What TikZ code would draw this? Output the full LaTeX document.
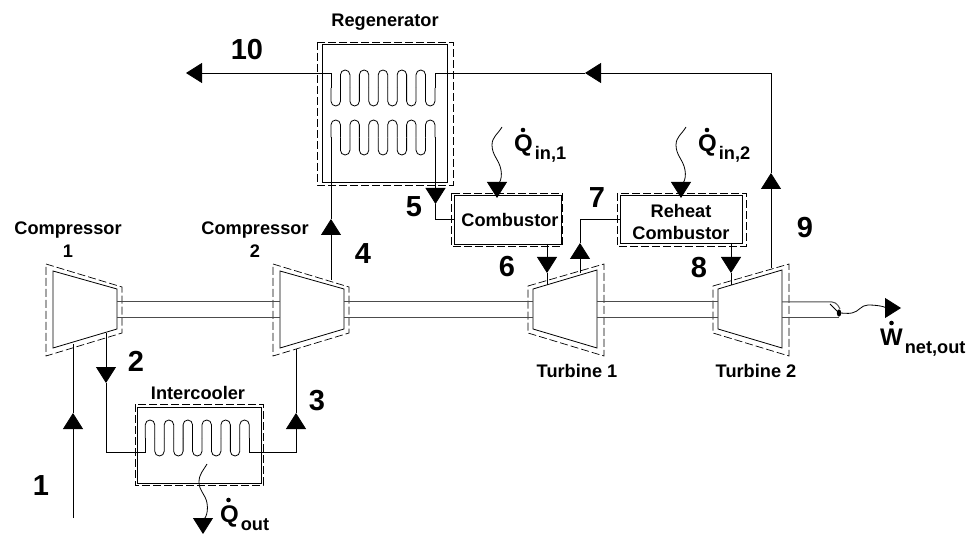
\documentclass[tikz,border=0pt]{standalone}
\usepackage{fontspec}
\setmainfont{Liberation Sans}
\usetikzlibrary{arrows.meta}

\tikzset{
  pipe/.style={draw,line width=.8pt,line join=miter},
  flow/.style={pipe,-{Triangle[length=16pt,width=20pt]}},
  casing/.style={draw,line width=.7pt,dash pattern=on 8pt off 3pt},
  shaft/.style={draw=black!70,line width=1pt},
  unit/.style={draw,line width=.8pt,inner sep=0pt,align=center,font=\bfseries\fontsize{18.2}{22}\selectfont},
  caption/.style={font=\bfseries\fontsize{18.2}{22}\selectfont,inner sep=0pt,align=center},
  state/.style={font=\bfseries\fontsize{29}{29}\selectfont,inner sep=0pt},
  energy/.style={font=\bfseries\fontsize{24}{24}\selectfont,inner sep=0pt,anchor=base west},
}
\newcommand{\Sub}[1]{\kern2pt\raisebox{-8pt}{\fontsize{18.2}{18}\selectfont #1}}
\newcommand{\Compressor}[1]{
  \draw[pipe] (#1,271) -- (#1+64,289) -- (#1+64,329) -- (#1,348) -- cycle;
  \draw[casing] (#1-7,264) -- (#1+69,287) -- (#1+69,333) -- (#1-7,356) -- cycle;
}
\newcommand{\Turbine}[1]{
  \draw[pipe] (#1,289) -- (#1+64,270) -- (#1+64,348) -- (#1,329) -- cycle;
  \draw[casing] (#1-5,286) -- (#1+71,264) -- (#1+71,356) -- (#1-5,333) -- cycle;
}
\newcommand{\Coil}[3]{
  \foreach \i in {0,2,...,10}
    \draw[pipe,rounded corners=4.7pt] (#1+\i*9.45,{(#2+#3)/2}) -- (#1+\i*9.45,#2) -- (#1+\i*9.45+9.45,#2) -- (#1+\i*9.45+9.45,{(#2+#3)/2});
  \foreach \i in {1,3,...,9}
    \draw[pipe,rounded corners=4.7pt] (#1+\i*9.45,{(#2+#3)/2}) -- (#1+\i*9.45,#3) -- (#1+\i*9.45+9.45,#3) -- (#1+\i*9.45+9.45,{(#2+#3)/2});
}

\begin{document}
\begin{tikzpicture}[x=1pt,y=-1pt]
  \useasboundingbox (0,0) rectangle (968,534);

  \Compressor{53}
  \Compressor{280}
  \Turbine{533}
  \Turbine{718}

  \draw[pipe] (137,407) rectangle (261,483);
  \draw[pipe] (322,44) rectangle (447,182);
  \node[unit,minimum width=107pt,minimum height=49pt] (combustor) at (507.5,219.5) {\kern5pt Combustor};
  \node[unit,minimum width=122pt,minimum height=48pt] (reheat) at (681,219) {\rule{0pt}{20pt}Reheat\\Combustor};
  \draw[casing] (135,404) rectangle (263,485);
  \draw[casing] (317,42) rectangle (453,185);
  \draw[casing] (451,193) rectangle (562,246);
  \draw[casing] (617,193) rectangle (746,246);

  \Coil{145.3}{420}{456}
  \Coil{331}{106}{70}
  \Coil{331}{120}{155}

  % shaft
  \coordinate (c1e) at (117,302);
  \coordinate (c1f) at (117,317);
  \draw[shaft] (c1e) -- (280,302) (c1f) -- (280,317);
  \draw[shaft] (344,302) -- (533,302) (344,317) -- (533,317);
  \draw[shaft] (597,302) -- (718,302) (597,317) -- (718,317);
  \coordinate (shaftend) at (839,313);
  \draw[shaft,rounded corners=4pt] (782,302) -- (836,302) -- (840,309);
  \draw[shaft] (782,317) -- (839,317);
  \draw[pipe] (830,304) -- (shaftend);
  \fill (shaftend) ellipse (2.2pt and 3.6pt);

  % states
  \coordinate (in1) at (73,518);
  \coordinate (tip1) at (73,413);
  \coordinate (c1in) at (73,344);
  \draw[flow] (in1) -- (tip1);
  \draw[pipe] (tip1) -- (c1in);

  \coordinate (c1out) at (106,333);
  \coordinate (tip2) at (106,383);
  \coordinate (coilin) at (145.3,438);
  \draw[flow] (c1out) -- (tip2);
  \draw[pipe] (tip2) |- (145.3,452) -- (coilin);

  \coordinate (coilout) at (249.3,438);
  \coordinate (tip3) at (296,413);
  \coordinate (c2in) at (296,349);
  \draw[pipe,-{Triangle[length=16pt,width=20pt]}] (coilout) |- (296,452) -- (tip3);
  \draw[pipe] (tip3) -- (c2in);

  \coordinate (c2out) at (331,280);
  \coordinate (tip4) at (331,219);
  \coordinate (regin) at (331,137.5);
  \draw[flow] (c2out) -- (tip4);
  \draw[pipe] (tip4) -- (regin);

  \coordinate (regout) at (435.5,137.5);
  \coordinate (tip5) at (435.5,204);
  \draw[flow] (regout) -- (tip5);
  \draw[pipe] (tip5) |- (combustor.west);

  \coordinate (t1in) at (547,285);
  \coordinate (tip6) at (547,273);
  \draw[flow] (547,244) -- (tip6);
  \draw[pipe] (tip6) -- (t1in);

  \coordinate (t1out) at (580,273);
  \coordinate (tip7) at (580,243);
  \draw[flow] (t1out) -- (tip7);
  \draw[pipe] (tip7) |- (reheat.west);

  \coordinate (t2in) at (731,285);
  \coordinate (tip8) at (731,273);
  \draw[flow] (731,243) -- (tip8);
  \draw[pipe] (tip8) -- (t2in);

  \coordinate (t2out) at (771,268);
  \coordinate (tip9) at (771,173);
  \coordinate (tipback) at (585,73);
  \coordinate (tip10) at (186,73);
  \draw[flow] (t2out) -- (tip9);
  \draw[flow] (tip9) |- (tipback);
  \draw[pipe] (tipback) -| (435.5,88);
  \draw[flow] (331,88) |- (tip10);

  % heat and work
  \coordinate (q1a) at (502,127);
  \coordinate (q1b) at (492,145);
  \coordinate (q1c) at (501,170);
  \coordinate (q1tip) at (497,198);
  \draw[pipe] (q1a) to[out=240,in=90] (q1b) to[out=270,in=100] (q1c);
  \draw[flow] (q1c) to[out=280,in=90] (q1tip);
  \coordinate (q2a) at (686,127);
  \coordinate (q2b) at (676,145);
  \coordinate (q2c) at (685,170);
  \coordinate (q2tip) at (681,198);
  \draw[pipe] (q2a) to[out=240,in=90] (q2b) to[out=270,in=100] (q2c);
  \draw[flow] (q2c) to[out=280,in=90] (q2tip);
  \coordinate (q3a) at (207,464);
  \coordinate (q3b) at (199,482);
  \coordinate (q3c) at (207,503);
  \coordinate (q3tip) at (203,534);
  \draw[pipe] (q3a) to[out=240,in=90] (q3b) to[out=270,in=100] (q3c);
  \draw[flow] (q3c) to[out=280,in=90] (q3tip);
  \coordinate (wa) at (852,313);
  \coordinate (wb) at (868,305);
  \coordinate (wtip) at (901,308);
  \draw[pipe] (shaftend) to[out=0,in=190] (wa) to[out=10,in=180] (wb);
  \draw[flow] (wb) to[out=0,in=180] (wtip);

  % labels
  \node[caption] (lc1) at (68,240) {Compressor\\[1pt]1};
  \node[caption] (lc2) at (255,240) {Compressor\\[1pt]2};
  \node[caption] (lic) at (198,393) {Intercooler};
  \node[caption] (lrg) at (385,22) {Regenerator};
  \node[caption] (lt1) at (577,371) {Turbine 1};
  \node[caption] (lt2) at (756,371) {Turbine 2};
  \node[state] (s1) at (41,486) {1};
  \node[state] (s2) at (136,361) {2};
  \node[state] (s3) at (317,401) {3};
  \node[state] (s4) at (363,254) {4};
  \node[state] (s5) at (414,207) {5};
  \node[state] (s6) at (507,267) {6};
  \node[state] (s7) at (597,198) {7};
  \node[state] (s8) at (699,268) {8};
  \node[state] (s9) at (805,228) {9};
  \node[state] (s10) at (247,50) {10};
  \node[energy] (qin1) at (514,152) {Q\Sub{in,1}};
  \node[energy] (qin2) at (698,152) {Q\Sub{in,2}};
  \node[energy] (qout) at (220,522) {Q\Sub{out}};
  \node[energy] (wnet) at (880,345) {W\Sub{net,out}};
  \foreach \x/\y in {523/130,707/130,228.5/500,891.5/323}
    \fill (\x,\y) circle (2.3pt);
\end{tikzpicture}
\end{document}
